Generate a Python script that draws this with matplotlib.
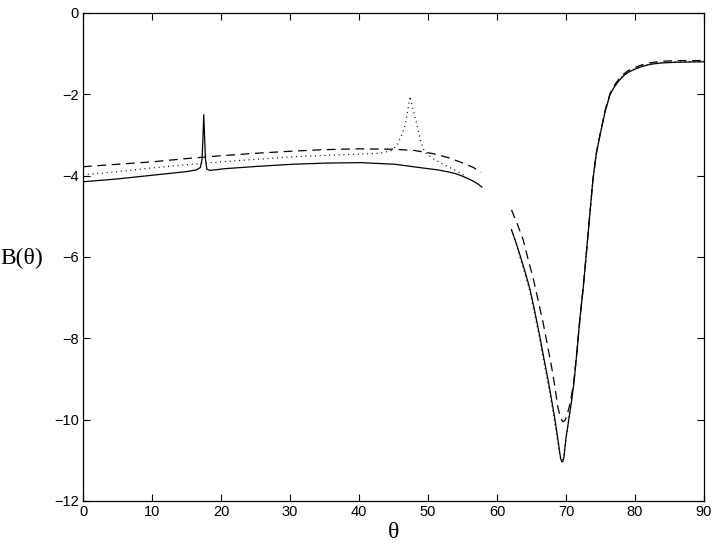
import matplotlib.pyplot as plt

# branch 1 (theta < 60)
th1_solid = [0, 5, 10, 15, 16.4, 17.0, 17.25, 17.38, 17.5, 17.6, 17.75, 17.95, 18.4, 19.5,
             20.4, 25.4, 30.3, 35.3, 40.3, 45.2, 49.2, 51.5, 53.0, 54.2, 55.1, 55.9, 56.5, 57.2, 57.8]
b1_solid = [-4.15, -4.08, -3.99, -3.9, -3.86, -3.8, -3.6, -3.1, -2.5, -2.95, -3.6, -3.84, -3.87, -3.85,
            -3.83, -3.77, -3.72, -3.69, -3.68, -3.72, -3.81, -3.86, -3.91, -3.96, -4.02, -4.08, -4.13, -4.2, -4.28]

th1_dash = [0, 5, 10, 15, 20, 25, 30, 35, 40, 45, 48, 50.8, 53.2, 55.2, 56.6, 57.7]
b1_dash = [-3.78, -3.72, -3.66, -3.58, -3.51, -3.45, -3.4, -3.36, -3.34, -3.35, -3.38, -3.46, -3.57, -3.7, -3.8, -3.92]

th1_dot = [0, 5, 10, 15, 20, 25, 30, 35, 40, 43, 44.8, 45.6, 46.2, 46.7, 47.0, 47.4, 47.8, 48.4,
           48.9, 49.5, 50.8, 52.2, 54.1, 55.6]
b1_dot = [-3.98, -3.9, -3.81, -3.73, -3.66, -3.6, -3.54, -3.5, -3.47, -3.45, -3.38, -3.22, -3.0, -2.75, -2.45, -2.05, -2.35, -2.75,
          -3.12, -3.42, -3.59, -3.72, -3.88, -4.03]

# branch 2 (theta > 60)
th2_solid = [62.1, 62.7, 63.4, 64.1, 64.8, 65.5, 66.2, 66.8, 67.4, 67.9, 68.4, 68.8, 69.1, 69.25, 69.4,
             69.55, 69.7, 70.0, 70.4, 70.8, 71.2, 71.6, 72.0, 72.5, 72.9, 73.4, 73.9, 74.4, 75.0, 75.7,
             76.4, 77.0, 77.6, 78.3, 79.0, 80.0, 81.1, 82.3, 83.7, 86.0, 90.0]
b2_solid = [-5.33, -5.62, -5.99, -6.38, -6.81, -7.36, -7.95, -8.5, -9.02, -9.5, -10.0, -10.45, -10.82, -10.97, -11.04,
            -11.03, -10.93, -10.45, -10.0, -9.55, -9.02, -8.3, -7.54, -6.75, -6.0, -5.05, -4.1, -3.45, -2.95, -2.4,
            -2.0, -1.82, -1.68, -1.55, -1.46, -1.38, -1.31, -1.26, -1.23, -1.21, -1.2]

th2_dash = [62.1, 62.9, 63.8, 64.5, 65.3, 66.0, 66.7, 67.3, 67.9, 68.4, 68.8, 69.2, 69.55, 69.85, 70.1, 70.6, 71.1,
            71.6, 72.0, 72.5, 72.9, 73.4, 73.9, 74.4, 75.0, 75.7, 76.4, 77.0, 77.6, 78.3, 79.0, 80.0, 81.1,
            82.3, 83.7, 86.0, 90.0]
b2_dash = [-4.84, -5.17, -5.58, -6.05, -6.56, -7.1, -7.63, -8.16, -8.69, -9.2, -9.68, -9.95, -10.05, -10.02, -9.92, -9.6, -9.1,
           -8.3, -7.54, -6.75, -6.0, -5.05, -4.1, -3.44, -2.93, -2.38, -1.97, -1.78, -1.64, -1.51, -1.42, -1.34, -1.27,
           -1.22, -1.19, -1.17, -1.17]

th2_dot = [62.1, 62.7, 63.3, 64.0, 64.7, 65.4, 66.1, 66.7, 67.3, 67.8, 68.3, 68.7, 69.05, 69.2, 69.35,
           69.5, 69.65, 70.0, 70.4, 70.8, 71.2, 71.6, 72.0, 72.5, 72.9, 73.4, 73.9, 74.4, 75.0, 75.7,
           76.4, 77.0, 77.6, 78.3, 79.0, 80.0, 81.1, 82.3, 83.7, 86.0, 90.0]
b2_dot = [-5.33, -5.62, -5.99, -6.38, -6.81, -7.36, -7.95, -8.5, -9.02, -9.5, -10.0, -10.43, -10.8, -10.94, -11.0,
          -10.99, -10.9, -10.45, -10.0, -9.55, -9.02, -8.3, -7.54, -6.75, -6.0, -5.05, -4.1, -3.45, -2.95, -2.4,
          -2.0, -1.81, -1.67, -1.54, -1.45, -1.37, -1.3, -1.25, -1.22, -1.2, -1.19]

xticks = [0, 10, 20, 30, 40, 50, 60, 70, 80, 90]
yticks = [-12, -10, -8, -6, -4, -2, 0]

plt.rcParams['font.family'] = ['Liberation Sans', 'DejaVu Sans']

fig = plt.figure(figsize=(7.16, 5.47), dpi=100)
ax = fig.add_axes([83 / 716, 1 - 501 / 547, 621 / 716, 488 / 547])

lw = 0.9
ax.plot(th1_solid, b1_solid, color='black', lw=lw)
ax.plot(th2_solid, b2_solid, color='black', lw=lw)
ax.plot(th1_dash, b1_dash, color='black', lw=lw, dashes=(7, 4.5))
ax.plot(th2_dash, b2_dash, color='black', lw=lw, dashes=(7, 4.5))
ax.plot(th1_dot, b1_dot, color='black', lw=lw, dashes=(0.8, 3))
ax.plot(th2_dot, b2_dot, color='black', lw=lw, dashes=(0.8, 3))

ax.set_xlim(0, 90)
ax.set_ylim(-12, 0)
ax.set_xticks(xticks)
ax.set_yticks(yticks)
ax.set_yticklabels(['\u2212' + str(-v) if v < 0 else str(v) for v in yticks])
ax.tick_params(direction='in', top=True, right=True, length=5, width=0.8, labelsize=10.5, pad=3)
for s in ax.spines.values():
    s.set_linewidth(0.9)

ax.set_xlabel('\u03b8', family='Liberation Serif', fontsize=17, labelpad=2)
fig.text(0.0, 0.527, 'B(\u03b8)', family='Liberation Serif', fontsize=17, ha='left', va='center')

fig.savefig('out.png', dpi=100)
